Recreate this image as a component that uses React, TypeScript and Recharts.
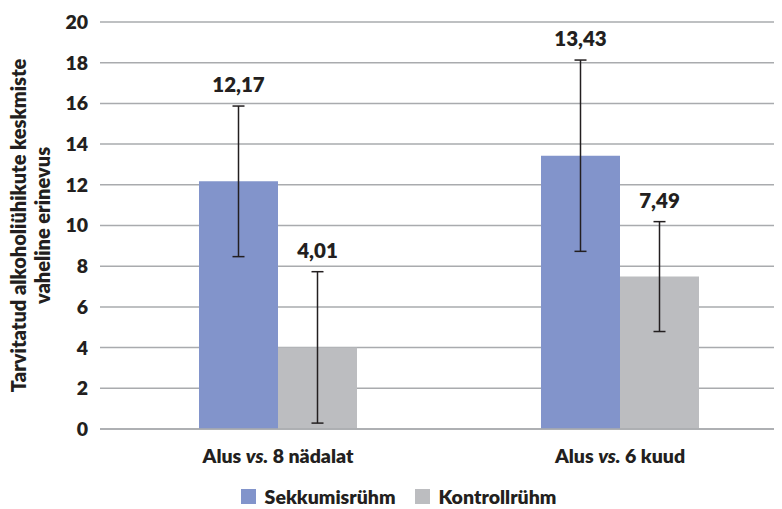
import React from 'react'
import { BarChart, Bar, XAxis, YAxis, CartesianGrid, ErrorBar, LabelList, Legend } from 'recharts'

const categories = ['8 nädalat', '6 kuud']
const sekkumis = [12.17, 13.43]
const sekkumisErr = [3.7, 4.7]
const kontroll = [4.01, 7.49]
const kontrollErr = [3.72, 2.7]
const yTicks = [0, 2, 4, 6, 8, 10, 12, 14, 16, 18, 20]

const data = categories.map((c, i) => ({
  name: c,
  sekkumis: sekkumis[i],
  sekkumisErr: sekkumisErr[i],
  kontroll: kontroll[i],
  kontrollErr: kontrollErr[i],
}))

const FONT = 'Lato, sans-serif'
const W = 800
const TEXT = '#231f20'
const BLUE = '#8294cb'
const GREY = '#bcbdc0'
const GRID = '#a9abae'

const fmt = (v: number) => v.toFixed(2).replace('.', ',')

function XTick(props: any) {
  const { x, y, payload } = props
  return (
    <text x={x} y={y + 34} textAnchor="middle" fontFamily={FONT} fontSize={19.5} fontWeight={W} fill={TEXT}>
      Alus <tspan fontStyle="italic">vs.</tspan> {payload.value}
    </text>
  )
}

function YLabel(props: any) {
  const { viewBox } = props
  const cy = viewBox.y + viewBox.height / 2
  return (
    <g fontFamily={FONT} fontSize={20} fontWeight={W} fill={TEXT}>
      <text transform={`translate(26, ${cy}) rotate(-90)`} textAnchor="middle">
        Tarvitatud alkoholiühikute keskmiste
      </text>
      <text transform={`translate(50, ${cy}) rotate(-90)`} textAnchor="middle">
        vaheline erinevus
      </text>
    </g>
  )
}

function makeLabel(errs: number[]) {
  return (props: any) => {
    const { x, y, width, height, value, index } = props
    const err = errs[index]
    const top = y - (err * height) / value
    return (
      <text x={x + width / 2} y={top - 14} textAnchor="middle" fontFamily={FONT} fontSize={20.5} fontWeight={W} fill={TEXT}>
        {fmt(value)}
      </text>
    )
  }
}

function LegendBox() {
  const item = (color: string, label: string, gap: number) => (
    <div style={{ display: 'flex', alignItems: 'center', marginRight: gap }}>
      <div style={{ width: 15, height: 15, background: color, marginRight: 9 }} />
      <span style={{ fontFamily: FONT, fontSize: 19.5, fontWeight: W, color: TEXT }}>{label}</span>
    </div>
  )
  return (
    <div style={{ display: 'flex', justifyContent: 'center', height: 26, alignItems: 'center', paddingRight: 2 }}>
      {item(BLUE, 'Sekkumisrühm', 19)}
      {item(GREY, 'Kontrollrühm', 0)}
    </div>
  )
}

export default function App() {
  return (
    <div style={{ width: 782, marginLeft: -8, overflow: 'hidden' }}>
      <BarChart
        width={798}
        height={501}
        data={data}
        margin={{ top: 14, right: 7, bottom: 0, left: 8 }}
        barGap={0}
        barSize={79}
      >
        <CartesianGrid vertical={false} stroke={GRID} strokeWidth={1.5} />
        <XAxis
          dataKey="name"
          height={54}
          padding={{ left: 7 }}
          tickLine={false}
          tickSize={0}
          tickMargin={0}
          stroke={GRID}
          strokeWidth={1.5}
          tick={<XTick />}
        />
        <YAxis
          width={92}
          domain={[0, 20]}
          ticks={yTicks}
          axisLine={false}
          tickLine={false}
          tickMargin={6}
          tick={{ fontFamily: FONT, fontSize: 19.5, fontWeight: W, fill: TEXT }}
          label={<YLabel />}
        />
        <Legend verticalAlign="bottom" content={<LegendBox />} />
        <Bar dataKey="sekkumis" fill={BLUE} isAnimationActive={false}>
          <ErrorBar dataKey="sekkumisErr" width={6} stroke={TEXT} strokeWidth={1.5} />
          <LabelList dataKey="sekkumis" content={makeLabel(sekkumisErr)} />
        </Bar>
        <Bar dataKey="kontroll" fill={GREY} isAnimationActive={false}>
          <ErrorBar dataKey="kontrollErr" width={6} stroke={TEXT} strokeWidth={1.5} />
          <LabelList dataKey="kontroll" content={makeLabel(kontrollErr)} />
        </Bar>
      </BarChart>
    </div>
  )
}
